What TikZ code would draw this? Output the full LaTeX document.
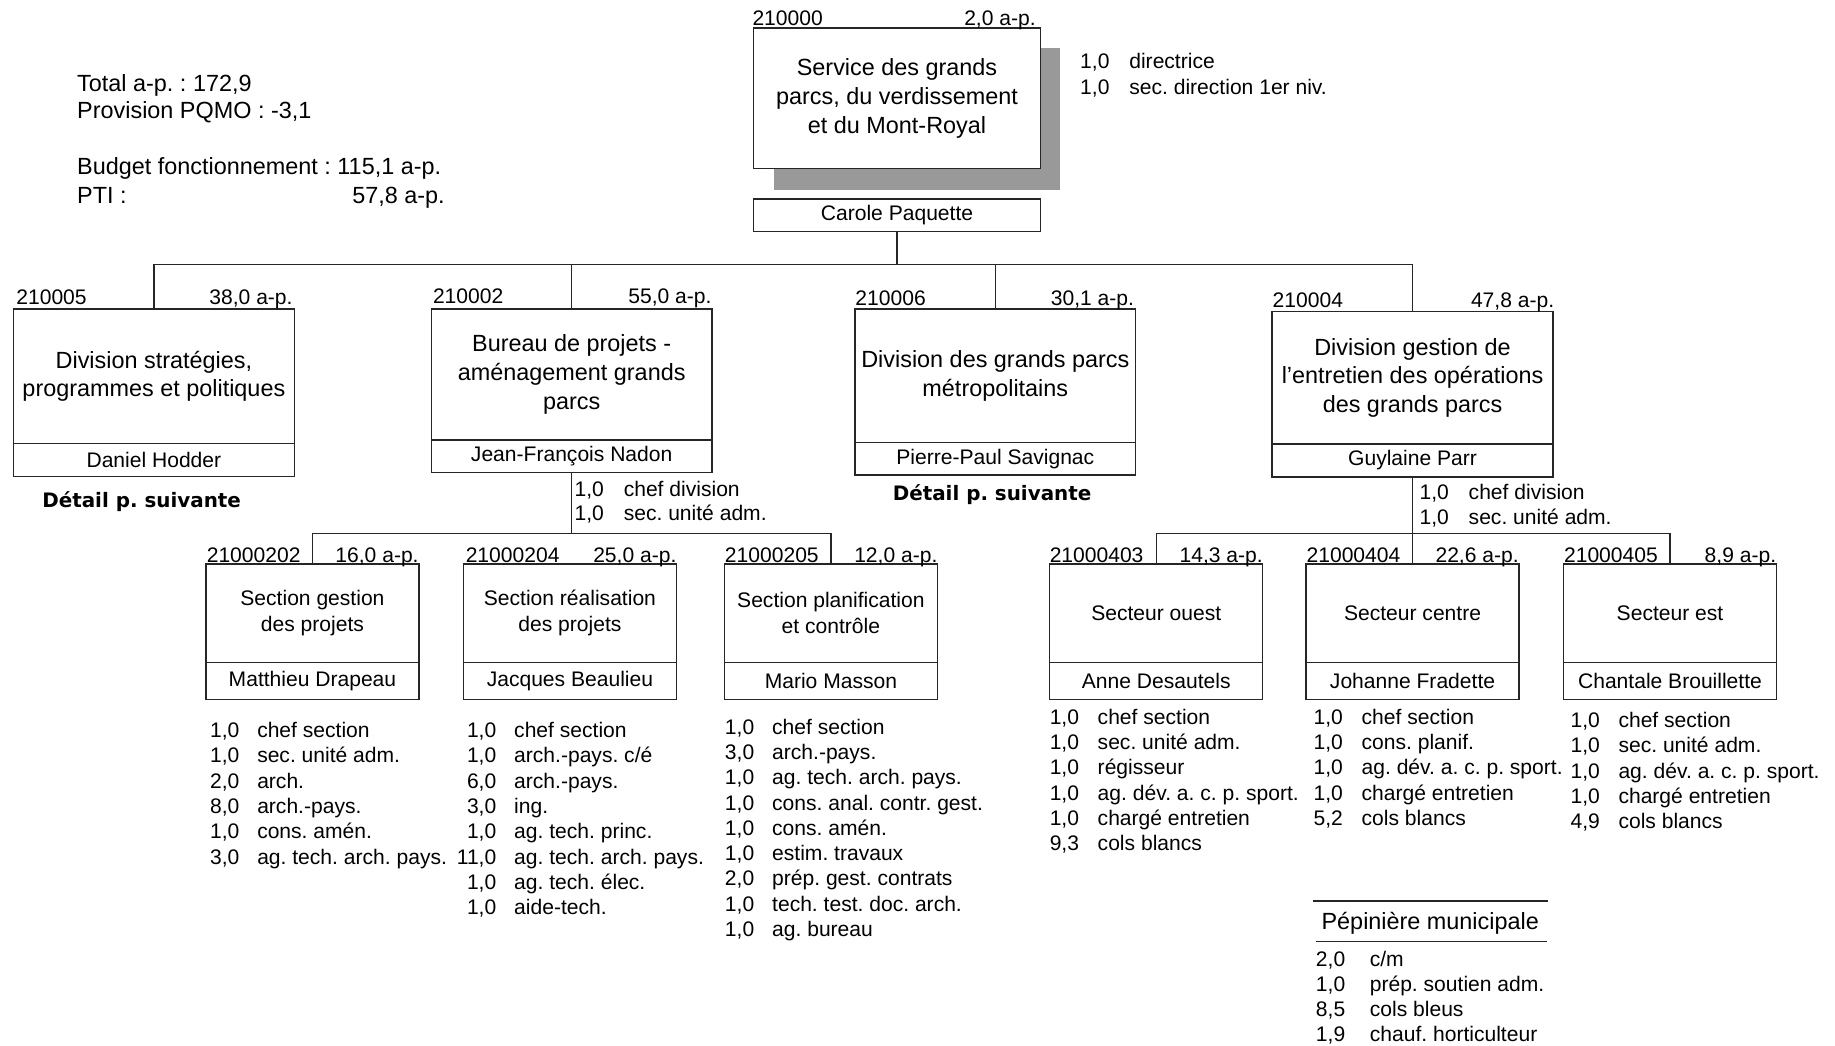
\documentclass[tikz,border=0pt]{standalone}
\usepackage{fontspec}
\setmainfont{Liberation Sans}
\newfontfamily\detfont{DejaVu Sans}
\definecolor{shadowgray}{RGB}{153,153,153}
\newcommand{\rowlist}[2]{\begin{tabular}[t]{@{}r@{\hspace{#1}}l@{}}#2\end{tabular}}
\frenchspacing
\begin{document}
\begin{tikzpicture}[x=1pt,y=-1pt,
  every node/.style={inner sep=0pt, outer sep=0pt, text=black},
  lnx/.style={line width=1.2pt, draw=black!85},
  bigbox/.style={lnx, fill=white, minimum width=240pt, align=center, font=\fontsize{20}{24.5}\selectfont, anchor=north},
  namebox/.style={lnx, fill=white, minimum width=240pt, minimum height=28pt, font=\fontsize{18}{21.6}\selectfont, anchor=north},
  secbox/.style={lnx, fill=white, minimum width=182pt, minimum height=84pt, align=center, font=\fontsize{18}{22}\selectfont, anchor=north},
  secname/.style={lnx, fill=white, minimum width=182pt, minimum height=31.5pt, font=\fontsize{18}{21.6}\selectfont, anchor=north},
  lblw/.style={font=\fontsize{18}{21.6}\selectfont, anchor=base west},
  lble/.style={font=\fontsize{18}{21.6}\selectfont, anchor=base east},
  listx/.style={font=\fontsize{18}{21.6}\selectfont, anchor=base west},
  infox/.style={font=\fontsize{20}{24}\selectfont, anchor=base west},
  detailx/.style={font=\detfont\bfseries\fontsize{17}{20}\selectfont},
  connx/.style={line width=1.2pt, draw=black!85}
]
\useasboundingbox (0,0) rectangle (1568,893);

% ---- info block
\node[infox] (tot) at (66,78) {Total a-p. : 172,9};
\node[infox] (prov) at (66,101.5) {Provision PQMO : -3,1};
\node[infox] (bud) at (66,149.5) {Budget fonctionnement : 115,1 a-p.};
\node[infox] (pti) at (66,174) {PTI :};
\node[infox, anchor=base east] (ptiv) at (380,174) {57,8 a-p.};

% ---- service
\fill[shadowgray] (661,41) rectangle (906,162);
\node[bigbox, minimum width=245pt, minimum height=120pt] (svc) at (766.5,24) {Service des grands\\parcs, du verdissement\\et du Mont-Royal};
\node[namebox, minimum width=245pt] (dir) at (766.5,170) {Carole Paquette};
\node[lblw] (svcid) at (643,21.5) {210000};
\node[lble] (svcap) at (885,21.5) {2,0 a-p.};
\node[listx, font=\fontsize{18}{22}\selectfont] (svcl) at (923,58.5) {\rowlist{17pt}{1,0 & directrice\\1,0 & sec. direction 1er niv.}};

% ---- divisions
\node[bigbox, minimum height=115pt] (d1) at (131.5,264) {Division stratégies,\\programmes et politiques};
\node[namebox] (d1n) at (d1.south) {Daniel Hodder};
\node[bigbox, minimum height=112pt] (d2) at (488.5,264) {Bureau de projets -\\aménagement grands\\parcs};
\node[namebox] (d2n) at (d2.south) {Jean-François Nadon};
\node[bigbox, minimum height=114pt] (d3) at (850.5,264) {Division des grands parcs\\métropolitains};
\node[namebox] (d3n) at (d3.south) {Pierre-Paul Savignac};
\node[bigbox, minimum height=113.5pt] (d4) at (1207,266) {Division gestion de\\l’entretien des opérations\\des grands parcs};
\node[namebox] (d4n) at (d4.south) {Guylaine Parr};

\node[lblw] (d1id) at (14,260) {210005};
\node[lble] (d1ap) at (250,260) {38,0 a-p.};
\node[lblw] (d2id) at (370,259.5) {210002};
\node[lble] (d2ap) at (608,259.5) {55,0 a-p.};
\node[lblw] (d3id) at (731,261) {210006};
\node[lble] (d3ap) at (969,261) {30,1 a-p.};
\node[lblw] (d4id) at (1087.5,262.8) {210004};
\node[lble] (d4ap) at (1328,262.8) {47,8 a-p.};

\node[detailx] (det1) at (121,428.5) {Détail p. suivante};
\node[detailx] (det3) at (847.7,422.5) {Détail p. suivante};

\node[listx, font=\fontsize{18}{20.5}\selectfont] (d2l) at (491,424.5) {\rowlist{17pt}{1,0 & chef division\\1,0 & sec. unité adm.}};
\node[listx, font=\fontsize{18}{22}\selectfont] (d4l) at (1213,426.5) {\rowlist{17pt}{1,0 & chef division\\1,0 & sec. unité adm.}};

% ---- top connectors
\coordinate (bus) at (0,226);
\draw[connx] (dir.south) -- (dir.south |- bus);
\draw[connx] (d1.north) -- (d1.north |- bus) -- (d4.north |- bus) -- (d4.north);
\draw[connx] (d2.north) -- (d2.north |- bus);
\draw[connx] (d3.north) -- (d3.north |- bus);

% ---- sections
\node[secbox] (s1) at (267,482) {Section gestion\\des projets};
\node[secname] (s1n) at (s1.south) {Matthieu Drapeau};
\node[secbox] (s2) at (487,482) {Section réalisation\\des projets};
\node[secname] (s2n) at (s2.south) {Jacques Beaulieu};
\node[secbox] (s3) at (710,482) {Section planification\\et contrôle};
\node[secname] (s3n) at (s3.south) {Mario Masson};
\node[secbox] (s4) at (988,482) {Secteur ouest};
\node[secname] (s4n) at (s4.south) {Anne Desautels};
\node[secbox] (s5) at (1207,482) {Secteur centre};
\node[secname] (s5n) at (s5.south) {Johanne Fradette};
\node[secbox] (s6) at (1427,482) {Secteur est};
\node[secname] (s6n) at (s6.south) {Chantale Brouillette};

\node[lblw] (s1id) at (176.7,480.5) {21000202};
\node[lble] (s1ap) at (357.7,480.5) {16,0 a-p.};
\node[lblw] (s2id) at (398,480.5) {21000204};
\node[lble] (s2ap) at (578,480.5) {25,0 a-p.};
\node[lblw] (s3id) at (619.5,480.5) {21000205};
\node[lble] (s3ap) at (801,480.5) {12,0 a-p.};
\node[lblw] (s4id) at (897,480.5) {21000403};
\node[lble] (s4ap) at (1079,480.5) {14,3 a-p.};
\node[lblw] (s5id) at (1116.5,480.5) {21000404};
\node[lble] (s5ap) at (1297.7,480.5) {22,6 a-p.};
\node[lblw] (s6id) at (1336.5,480.5) {21000405};
\node[lble] (s6ap) at (1517.7,480.5) {8,9 a-p.};

% ---- lower connectors
\coordinate (sb) at (0,456);
\draw[connx] (d2n.south) -- (d2n.south |- sb);
\draw[connx] (s1.north) -- (s1.north |- sb) -- (s3.north |- sb) -- (s3.north);
\draw[connx] (d4n.south) -- (s5.north);
\draw[connx] (s4.north) -- (s4.north |- sb) -- (s6.north |- sb) -- (s6.north);

% ---- lists
\node[listx] (s1l) at (179.5,630.3) {\rowlist{15.3pt}{1,0 & chef section\\1,0 & sec. unité adm.\\2,0 & arch.\\8,0 & arch.-pays.\\1,0 & cons. amén.\\3,0 & ag. tech. arch. pays.}};
\node[listx] (s2l) at (390.4,630.3) {\rowlist{15.3pt}{1,0 & chef section\\1,0 & arch.-pays. c/é\\6,0 & arch.-pays.\\3,0 & ing.\\1,0 & ag. tech. princ.\\11,0 & ag. tech. arch. pays.\\1,0 & ag. tech. élec.\\1,0 & aide-tech.}};
\node[listx] (s3l) at (619.5,627.4) {\rowlist{15.3pt}{1,0 & chef section\\3,0 & arch.-pays.\\1,0 & ag. tech. arch. pays.\\1,0 & cons. anal. contr. gest.\\1,0 & cons. amén.\\1,0 & estim. travaux\\2,0 & prép. gest. contrats\\1,0 & tech. test. doc. arch.\\1,0 & ag. bureau}};
\node[listx] (s4l) at (897,618.9) {\rowlist{16pt}{1,0 & chef section\\1,0 & sec. unité adm.\\1,0 & régisseur\\1,0 & ag. dév. a. c. p. sport.\\1,0 & chargé entretien\\9,3 & cols blancs}};
\node[listx] (s5l) at (1122.5,618.9) {\rowlist{16pt}{1,0 & chef section\\1,0 & cons. planif.\\1,0 & ag. dév. a. c. p. sport.\\1,0 & chargé entretien\\5,2 & cols blancs}};
\node[listx] (s6l) at (1342,621.7) {\rowlist{16pt}{1,0 & chef section\\1,0 & sec. unité adm.\\1,0 & ag. dév. a. c. p. sport.\\1,0 & chargé entretien\\4,9 & cols blancs}};

% ---- pepiniere
\draw[connx] (1121.7,770) -- (1323,770);
\node[infox] (pep) at (1129.3,794.6) {Pépinière municipale};
\draw[connx] (1124.5,804.6) -- (1321.6,804.6);
\node[listx, font=\fontsize{18}{21.4}\selectfont] (pepl) at (1124.5,826) {\rowlist{21pt}{2,0 & c/m\\1,0 & prép. soutien adm.\\8,5 & cols bleus\\1,9 & chauf. horticulteur}};
\end{tikzpicture}
\end{document}
